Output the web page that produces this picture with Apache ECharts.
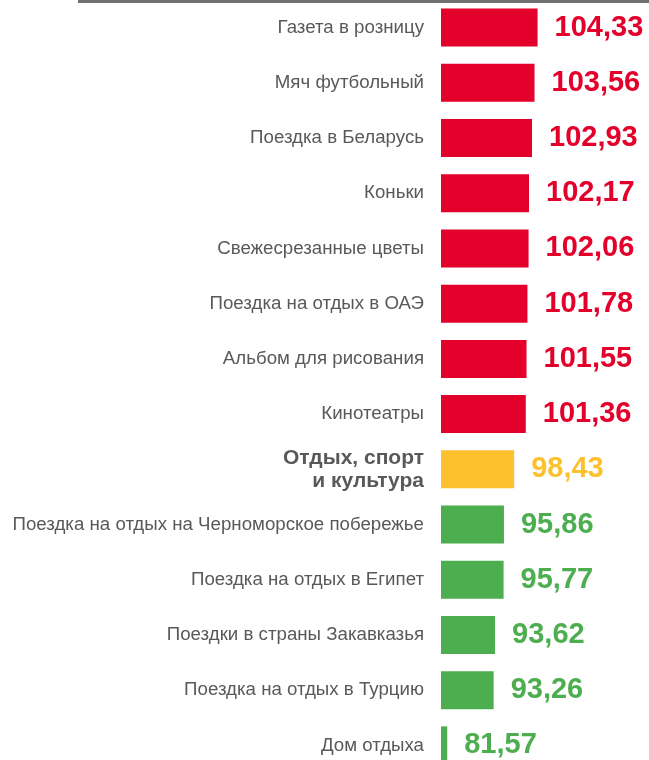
<!DOCTYPE html>
<html lang="ru">
<head>
    <meta charset="UTF-8">
    <title>Индексы цен</title>
    <script src="https://cdn.jsdelivr.net/npm/echarts@6/dist/echarts.min.js"></script>
    <style>
        html, body { margin: 0; padding: 0; background: #fff; overflow: hidden; }
    </style>
</head>
<body>
<!-- чуть выше окна: нижняя строка в оригинале обрезана -->
<div id="main" style="width:649px;height:773px;"></div>

<script>
// категории сверху вниз
var categories = [
    'Газета в розницу',
    'Мяч футбольный',
    'Поездка в Беларусь',
    'Коньки',
    'Свежесрезанные цветы',
    'Поездка на отдых в ОАЭ',
    'Альбом для рисования',
    'Кинотеатры',
    'Отдых, спорт\nи культура',
    'Поездка на отдых на Черноморское побережье',
    'Поездка на отдых в Египет',
    'Поездки в страны Закавказья',
    'Поездка на отдых в Турцию',
    'Дом отдыха'
];
var values = [104.33, 103.56, 102.93, 102.17, 102.06, 101.78, 101.55, 101.36,
    98.43, 95.86, 95.77, 93.62, 93.26, 81.57];
// индекс строки с итогом по группе
var totalIndex = 8;

var RED = '#E3002B', YELLOW = '#FDC12E', GREEN = '#4DAE4F';
var FONT = '"Liberation Sans", Arial, sans-serif';

function colorOf(i) {
    if (i === totalIndex) return YELLOW;
    return values[i] > values[totalIndex] ? RED : GREEN;
}

var seriesData = values.map(function (v, i) {
    return {
        value: v,
        itemStyle: { color: colorOf(i) },
        label: { color: colorOf(i) }
    };
});

var myChart = echarts.init(document.getElementById('main'));

myChart.setOption({
    animation: false,
    textStyle: { fontFamily: FONT },
    grid: { left: 441, right: 0, top: 0, bottom: 0, containLabel: false },
    xAxis: {
        type: 'value',
        min: 80,
        max: 132.4,
        show: false
    },
    yAxis: {
        type: 'category',
        inverse: true,
        data: categories,
        axisLine: { show: false },
        axisTick: { show: false },
        axisLabel: {
            margin: 17,
            color: '#595959',
            fontSize: 18.7,
            fontFamily: FONT,
            formatter: function (val, i) {
                return i === totalIndex ? '{b|' + val.replace('\n', '}\n{b|') + '}' : val;
            },
            rich: {
                b: { fontSize: 21, fontWeight: 'bold', color: '#595959', lineHeight: 23, fontFamily: FONT, align: 'right' }
            }
        }
    },
    series: [{
        type: 'bar',
        data: seriesData,
        barWidth: 38,
        label: {
            show: true,
            position: 'right',
            distance: 17,
            fontSize: 29,
            fontWeight: 'bold',
            fontFamily: FONT,
            formatter: function (p) {
                return p.value.toFixed(2).replace('.', ',');
            }
        }
    }],
    graphic: [{
        type: 'line',
        shape: { x1: 78, y1: 1.5, x2: 649, y2: 1.5 },
        style: { stroke: '#707070', lineWidth: 3 }
    }]
});
</script>
</body>
</html>
